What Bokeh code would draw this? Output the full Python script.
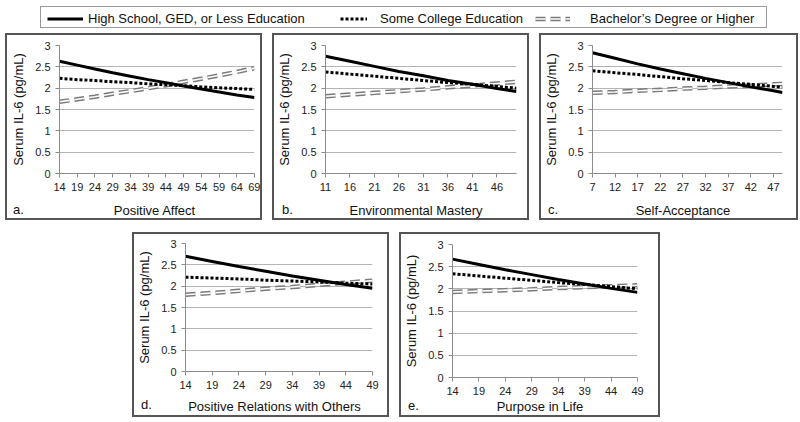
from bokeh.plotting import figure
from bokeh.layouts import row, column, Spacer
from bokeh.models import Range1d, FixedTicker, NumeralTickFormatter, Legend, LegendItem, Div
from bokeh.embed import file_html
from bokeh.resources import INLINE

FONT = "Liberation Sans"

# ---------------- data ----------------
series_names = ["High School, GED, or Less Education",
                "Some College Education",
                "Bachelor\u2019s Degree or Higher"]
y_ticks = [0, 0.5, 1, 1.5, 2, 2.5, 3]
y_title = "Serum IL-6 (pg/mL)"

a_title = "Positive Affect"
a_tag = "a."
a_ticks = [14, 19, 24, 29, 34, 39, 44, 49, 54, 59, 64, 69]
a_x = [14, 19, 24, 29, 34, 39, 44, 49, 54, 59, 64, 69]
a_hs = [2.63, 2.54, 2.45, 2.36, 2.28, 2.20, 2.13, 2.05, 1.98, 1.91, 1.84, 1.78]
a_sc = [2.23, 2.20, 2.18, 2.15, 2.13, 2.10, 2.08, 2.06, 2.03, 2.01, 1.99, 1.97]
a_ba = [1.68, 1.74, 1.80, 1.87, 1.93, 2.00, 2.07, 2.15, 2.22, 2.30, 2.38, 2.47]

b_title = "Environmental Mastery"
b_tag = "b."
b_ticks = [11, 16, 21, 26, 31, 36, 41, 46]
b_x = [11, 16, 21, 26, 31, 36, 41, 46, 50]
b_hs = [2.75, 2.63, 2.51, 2.39, 2.29, 2.18, 2.09, 1.99, 1.92]
b_sc = [2.38, 2.33, 2.28, 2.23, 2.18, 2.13, 2.09, 2.04, 2.00]
b_ba = [1.81, 1.85, 1.89, 1.93, 1.97, 2.02, 2.06, 2.11, 2.15]

c_title = "Self-Acceptance"
c_tag = "c."
c_ticks = [7, 12, 17, 22, 27, 32, 37, 42, 47]
c_x = [7, 12, 17, 22, 27, 32, 37, 42, 47, 49]
c_hs = [2.83, 2.70, 2.57, 2.45, 2.34, 2.23, 2.13, 2.03, 1.94, 1.90]
c_sc = [2.41, 2.36, 2.32, 2.27, 2.22, 2.18, 2.13, 2.09, 2.04, 2.02]
c_ba = [1.89, 1.91, 1.94, 1.96, 1.99, 2.01, 2.04, 2.06, 2.09, 2.10]

d_title = "Positive Relations with Others"
d_tag = "d."
d_ticks = [14, 19, 24, 29, 34, 39, 44, 49]
d_x = [14, 19, 24, 29, 34, 39, 44, 49]
d_hs = [2.70, 2.58, 2.46, 2.35, 2.24, 2.14, 2.04, 1.95]
d_sc = [2.21, 2.19, 2.17, 2.14, 2.12, 2.10, 2.07, 2.05]
d_ba = [1.80, 1.84, 1.89, 1.94, 1.98, 2.03, 2.08, 2.13]

e_title = "Purpose in Life"
e_tag = "e."
e_ticks = [14, 19, 24, 29, 34, 39, 44, 49]
e_x = [14, 19, 24, 29, 34, 39, 44, 49]
e_hs = [2.67, 2.55, 2.43, 2.32, 2.21, 2.11, 2.01, 1.92]
e_sc = [2.34, 2.29, 2.24, 2.19, 2.14, 2.10, 2.05, 2.00]
e_ba = [1.93, 1.95, 1.97, 1.99, 2.02, 2.04, 2.06, 2.08]

# ---------------- styles ----------------
PB = 2
BCOL = "%dpx solid #555555" % PB
TOP_BORDER = {"border-left": BCOL, "border-right": BCOL, "border-top": BCOL, "background": "white"}
SOLID = dict(line_color="black", line_width=3)
DOT = dict(line_color="black", line_width=3, line_dash="3 2")
DBL_OUT = dict(line_color="#7a7a7a", line_width=4.5, line_dash="10 5")
DBL_IN = dict(line_color="white", line_width=1.6, line_dash="10 5")


def panel(x, ticks, hs, sc, ba, xtitle, tag, w, main_h, foot_h,
          ml, mr, mt, mb, tagx, tagb, titleb):
    p = figure(width=w, height=main_h,
               x_range=Range1d(x[0], x[-1]), y_range=Range1d(0, 3),
               output_backend="svg", toolbar_location=None,
               min_border_left=ml, min_border_right=mr,
               min_border_top=mt, min_border_bottom=mb,
               styles=TOP_BORDER)
    p.outline_line_color = None
    p.background_fill_color = "white"
    p.border_fill_color = "white"
    p.xgrid.visible = False
    p.ygrid.ticker = FixedTicker(ticks=y_ticks, minor_ticks=[])
    p.ygrid.grid_line_color = "#b4b4b4"
    p.ygrid.grid_line_width = 1

    p.yaxis.ticker = FixedTicker(ticks=y_ticks, minor_ticks=[])
    p.yaxis.formatter = NumeralTickFormatter(format="0.[0]")
    p.xaxis.ticker = FixedTicker(ticks=ticks, minor_ticks=[])
    for ax in (p.xaxis, p.yaxis):
        ax.axis_line_color = "#8c8c8c"
        ax.major_tick_line_color = "#8c8c8c"
        ax.minor_tick_line_color = None
        ax.major_tick_in = 0
        ax.major_tick_out = 4
        ax.major_label_text_font = FONT
        ax.major_label_text_font_size = "11px"
        ax.major_label_text_color = "#222222"
        ax.axis_label_text_font = FONT
        ax.axis_label_text_font_size = "13px"
        ax.axis_label_text_font_style = "normal"
        ax.axis_label_text_color = "#111111"
    p.xaxis.major_label_standoff = 5
    p.yaxis.major_label_standoff = 5
    p.yaxis.axis_label = y_title
    p.yaxis.axis_label_standoff = 6

    p.line(x, ba, **DBL_OUT)
    p.line(x, ba, **DBL_IN)
    p.line(x, sc, **DOT)
    p.line(x, hs, **SOLID)

    # footer strip: panel tag and x-axis title (real text)
    cx = ml + (w - 2 * PB - ml - mr) / 2.0
    html = (
        '<div style="position:relative;width:%dpx;height:%dpx;font-family:\'%s\';'
        'font-size:13px;color:#111111;margin:0;padding:0;">'
        '<span style="position:absolute;left:%dpx;bottom:%dpx;line-height:13px;white-space:nowrap;">%s</span>'
        '<span style="position:absolute;left:%.1fpx;bottom:%dpx;line-height:13px;white-space:nowrap;'
        'transform:translateX(-50%%);">%s</span></div>'
        % (w - 2 * PB, foot_h - PB, FONT, tagx, tagb, tag, cx, titleb, xtitle)
    )
    foot_styles = {
        "box-sizing": "border-box", "overflow": "hidden",
        "width": "%dpx" % w, "height": "%dpx" % foot_h,
        "min-width": "%dpx" % w, "max-width": "%dpx" % w,
        "min-height": "%dpx" % foot_h, "max-height": "%dpx" % foot_h,
        "margin": "0", "padding": "0",
        "border-left": BCOL, "border-right": BCOL, "border-bottom": BCOL,
        "background": "white",
    }
    f = Div(text=html, width=w, height=foot_h, styles=foot_styles)
    return column(p, f, spacing=0)


pa = panel(a_x, a_ticks, a_hs, a_sc, a_ba, a_title, a_tag, 257, 163, 24, 52, 10, 10, 25, 6, 2, 1)
pb = panel(b_x, b_ticks, b_hs, b_sc, b_ba, b_title, b_tag, 257, 163, 24, 46, 15, 10, 25, 8, 2, 1)
pc = panel(c_x, c_ticks, c_hs, c_sc, c_ba, c_title, c_tag, 259, 163, 24, 47, 18, 10, 25, 7, 2, 1)
pd = panel(d_x, d_ticks, d_hs, d_sc, d_ba, d_title, d_tag, 257, 162, 23, 47, 19, 9, 25, 7, 4, 2)
pe = panel(e_x, e_ticks, e_hs, e_sc, e_ba, e_title, e_tag, 261, 166, 19, 46, 25, 10, 23, 7, 3, 2)

# ---------------- legend box ----------------
LW, LH = 727, 22
lp = figure(width=LW, height=LH, x_range=Range1d(0, 1), y_range=Range1d(0, 1),
            output_backend="svg", toolbar_location=None,
            x_axis_location=None, y_axis_location=None, min_border=0,
            styles={"border": "1px solid #9a9a9a", "background": "white"})
lp.outline_line_color = None
lp.xgrid.visible = False
lp.ygrid.visible = False
NAN = [float("nan")]
r_hs = lp.line(x=NAN, y=NAN, **SOLID)
r_sc = lp.line(x=NAN, y=NAN, **DOT)
r_ba_o = lp.line(x=NAN, y=NAN, **DBL_OUT)
r_ba_i = lp.line(x=NAN, y=NAN, **DBL_IN)

leg_specs = [
    (series_names[0], [r_hs], 6, 36, 5),
    (series_names[1], [r_sc], 299, 27, 13),
    (series_names[2], [r_ba_o, r_ba_i], 494, 35, 20),
]
for name, rs, lx, gw, so in leg_specs:
    lg = Legend(items=[LegendItem(label=name, renderers=rs)],
                location=(lx, 3), orientation="horizontal",
                border_line_color=None, background_fill_alpha=0,
                padding=0, margin=0, spacing=0,
                glyph_width=gw, glyph_height=15, label_height=15,
                label_standoff=so, label_text_font=FONT,
                label_text_font_size="13px", label_text_color="#111111")
    lp.add_layout(lg)

layout = column(
    Spacer(height=6),
    row(Spacer(width=40), lp),
    Spacer(height=5),
    row(Spacer(width=5), pa, Spacer(width=10), pb, Spacer(width=10), pc),
    Spacer(height=12),
    row(Spacer(width=132), pd, Spacer(width=10), pe),
)

open("out.html", "w").write(file_html(layout, INLINE))
